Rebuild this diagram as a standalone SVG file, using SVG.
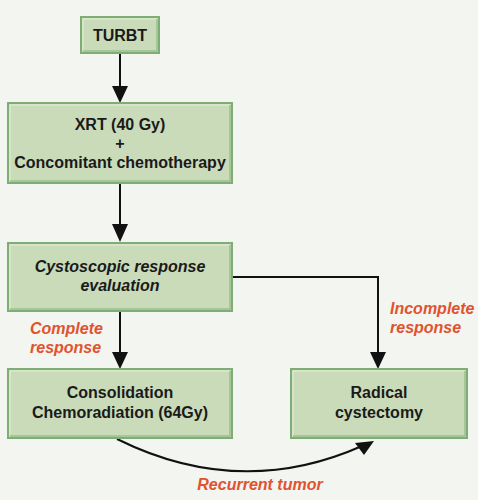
<svg xmlns="http://www.w3.org/2000/svg" width="478" height="500" viewBox="0 0 478 500">
<defs>
<style>
.box{fill:#c9dbb9;stroke:#7fae74;stroke-width:2}
.hl{fill:none;stroke:#e3eedb;stroke-width:1}
.sh{fill:none;stroke:#9cbf92;stroke-width:1.5}
.t{font-family:"Liberation Sans",Arial,sans-serif;font-weight:bold;font-size:16px;fill:#1a1a1a;text-anchor:middle}
.ti{font-style:italic}
.lab{font-family:"Liberation Sans",Arial,sans-serif;font-weight:bold;font-style:italic;font-size:16px;fill:#e0532e}
.c{fill:none;stroke:#111;stroke-width:2}
.hd{fill:#111}
</style>
</defs>
<rect width="478" height="500" fill="#f3f5f1"/>
<g id="connectors">
<line class="c" x1="120" y1="54" x2="120" y2="88"/>
<path class="hd" d="M112,86 L128,86 L120,103 Z"/>
<line class="c" x1="120" y1="184" x2="120" y2="226"/>
<path class="hd" d="M112,224 L128,224 L120,242 Z"/>
<line class="c" x1="120" y1="312" x2="120" y2="354"/>
<path class="hd" d="M112,352 L128,352 L120,369 Z"/>
<polyline class="c" points="233,277 378,277 378,354"/>
<path class="hd" d="M370,352 L386,352 L378,369 Z"/>
<path class="c" d="M117,439 Q240,500 362,446"/>
<path class="hd" d="M355,443 L374,441 L364,455 Z"/>
</g>
<g id="turbt">
<rect class="box" x="81" y="17" width="78" height="36"/>
<path class="hl" d="M83,51 V19 H157"/>
<path class="sh" d="M83,51 H157 V19"/>
<text class="t" x="120" y="41">TURBT</text>
</g>
<g id="xrt">
<rect class="box" x="8" y="103" width="224" height="80"/>
<path class="hl" d="M10,181 V105 H230"/>
<path class="sh" d="M10,181 H230 V105"/>
<text class="t" x="120" y="130">XRT (40 Gy)</text>
<text class="t" x="120" y="149">+</text>
<text class="t" x="120" y="168">Concomitant chemotherapy</text>
</g>
<g id="cysto">
<rect class="box" x="8" y="243" width="224" height="68"/>
<path class="hl" d="M10,309 V245 H230"/>
<path class="sh" d="M10,309 H230 V245"/>
<text class="t ti" x="120" y="272">Cystoscopic response</text>
<text class="t ti" x="120" y="291">evaluation</text>
</g>
<g id="consol">
<rect class="box" x="8" y="369" width="224" height="69"/>
<path class="hl" d="M10,436 V371 H230"/>
<path class="sh" d="M10,436 H230 V371"/>
<text class="t" x="120" y="398">Consolidation</text>
<text class="t" x="120" y="418">Chemoradiation (64Gy)</text>
</g>
<g id="radical">
<rect class="box" x="291" y="369" width="176" height="69"/>
<path class="hl" d="M293,436 V371 H465"/>
<path class="sh" d="M293,436 H465 V371"/>
<text class="t" x="379" y="398">Radical</text>
<text class="t" x="379" y="418">cystectomy</text>
</g>
<g id="labels">
<text class="lab" x="30" y="334">Complete</text>
<text class="lab" x="30" y="353">response</text>
<text class="lab" x="390" y="314">Incomplete</text>
<text class="lab" x="390" y="333">response</text>
<text class="lab" x="260" y="490" text-anchor="middle">Recurrent tumor</text>
</g>
</svg>
